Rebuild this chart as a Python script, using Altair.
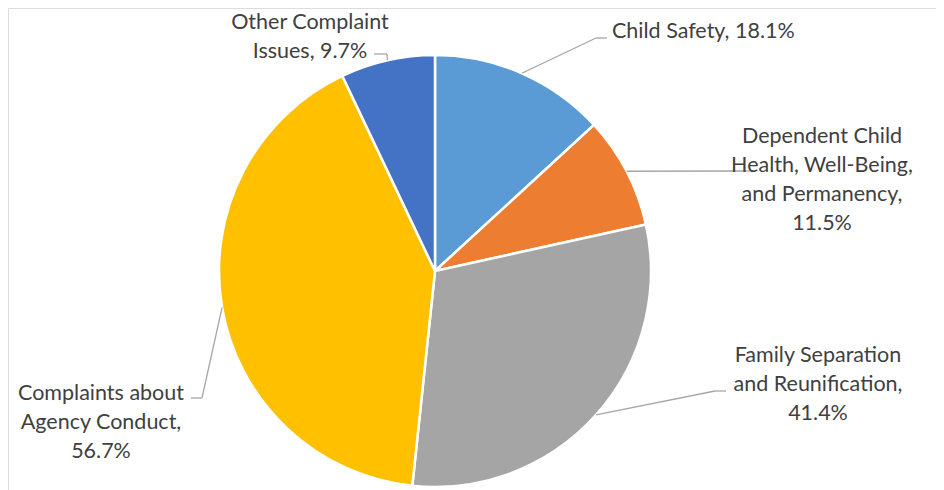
import altair as alt
import pandas as pd

# ---- data ----
categories = [
    "Child Safety",
    "Dependent Child Health, Well-Being, and Permanency",
    "Family Separation and Reunification",
    "Complaints about Agency Conduct",
    "Other Complaint Issues",
]
values = [18.1, 11.5, 41.4, 56.7, 9.7]
labels = [
    "Child Safety, 18.1%",
    "Dependent Child\nHealth, Well-Being,\nand Permanency,\n11.5%",
    "Family Separation\nand Reunification,\n41.4%",
    "Complaints about\nAgency Conduct,\n56.7%",
    "Other Complaint\nIssues, 9.7%",
]
colors = ["#5B9BD5", "#ED7D31", "#A5A5A5", "#FFC000", "#4472C4"]

# ---- layout (chart pixel space) ----
W, H = 928, 482
CX, CY, R = 427, 263, 216
# label anchor (text x, first baseline y), leader elbow, leader end, text alignment
LAYOUT = {
    "Child Safety": dict(lx=604, ly=30, bx=588, by=30, tx=599, ty=30, al="left"),
    "Dependent Child Health, Well-Being, and Permanency": dict(lx=814, ly=135, bx=738, by=163, tx=746, ty=163, al="center"),
    "Family Separation and Reunification": dict(lx=810, ly=354, bx=707, by=383, tx=718, ty=383, al="center"),
    "Complaints about Agency Conduct": dict(lx=93, ly=392, bx=194, by=390, tx=183, ty=390, al="center"),
    "Other Complaint Issues": dict(lx=302, ly=21, bx=379, by=46, tx=366, ty=46, al="center"),
}

df = pd.DataFrame({"idx": range(len(categories)), "category": categories,
                   "value": values, "label": labels})
for k in ["lx", "ly", "bx", "by", "tx", "ty", "al"]:
    df[k] = [LAYOUT[c][k] for c in categories]

FONT = "Lato"
TEXT_COLOR = "#404040"
LEADER = "#A6A6A6"

base = alt.Chart(df)

pie = base.mark_arc(outerRadius=R, stroke="white", strokeWidth=2.5).encode(
    theta=alt.Theta("value:Q", stack=True),
    color=alt.Color("category:N", scale=alt.Scale(domain=categories, range=colors), legend=None),
    order=alt.Order("idx:Q"),
    x=alt.value(CX),
    y=alt.value(CY),
)

geo = base.transform_joinaggregate(total="sum(value)").transform_window(
    cum="sum(value)", sort=[alt.SortField("idx")], frame=[None, 0]
).transform_calculate(
    ang=f"(datum.cum - datum.value/2) / datum.total * 2 * PI",
).transform_calculate(
    ex=f"{CX} + {R} * sin(datum.ang)",
    ey=f"{CY} - {R} * cos(datum.ang)",
)

leader1 = geo.mark_rule(color=LEADER, strokeWidth=1.3).encode(
    x=alt.X("ex:Q", scale=None), y=alt.Y("ey:Q", scale=None),
    x2="bx:Q", y2="by:Q",
)
leader2 = geo.mark_rule(color=LEADER, strokeWidth=1.3).encode(
    x=alt.X("bx:Q", scale=None), y=alt.Y("by:Q", scale=None),
    x2="tx:Q", y2="ty:Q",
)

text_kw = dict(font=FONT, fontSize=21.5, color=TEXT_COLOR, lineBreak="\n",
               lineHeight=29, baseline="alphabetic")
text_left = base.transform_filter("datum.al == 'left'").mark_text(align="left", **text_kw).encode(
    x=alt.X("lx:Q", scale=None), y=alt.Y("ly:Q", scale=None), text="label:N")
text_center = base.transform_filter("datum.al == 'center'").mark_text(align="center", **text_kw).encode(
    x=alt.X("lx:Q", scale=None), y=alt.Y("ly:Q", scale=None), text="label:N")

chart = alt.layer(pie, leader1, leader2, text_left, text_center).properties(
    width=W, height=H, padding=0, autosize=alt.AutoSizeParams(type="none")
).configure_view(strokeWidth=0, strokeOpacity=0).configure(background="white")

chart.save("out.html", embed_options={"renderer": "svg", "actions": False})
